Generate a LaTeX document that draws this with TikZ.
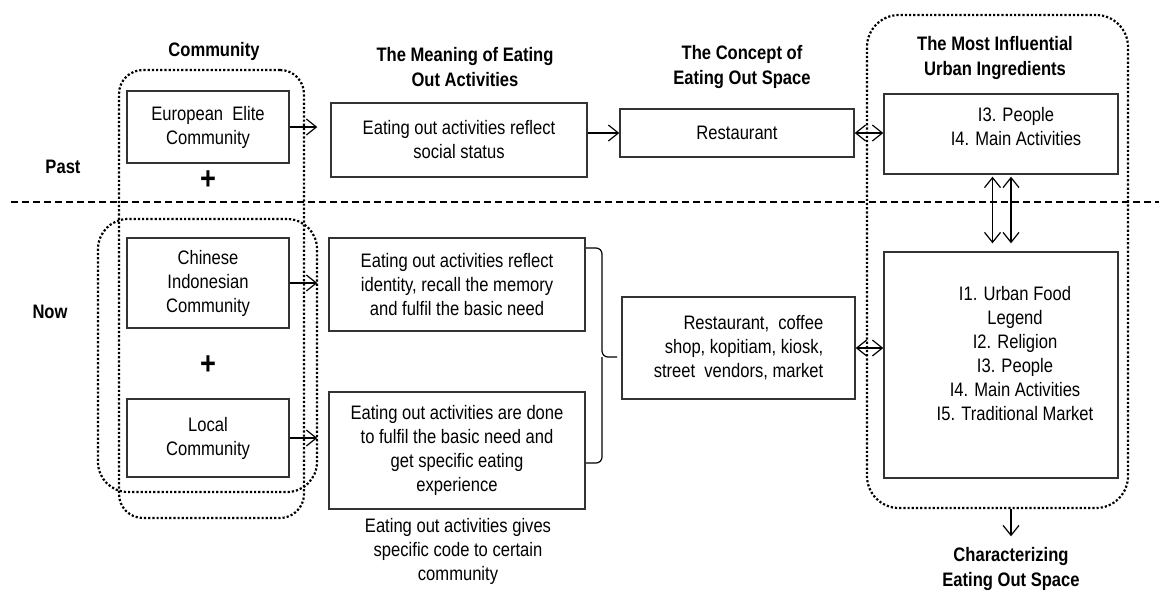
\documentclass[tikz,border=0pt]{standalone}
\usepackage{fontspec}
\setmainfont{Liberation Sans}[FakeStretch=0.85]
\usetikzlibrary{arrows.meta}

\begin{document}
\begin{tikzpicture}[x=0.5pt, y=-0.5pt,
    font=\fontsize{9.75}{12}\selectfont,
    box/.style={draw=black!80, line width=0.7pt, align=center, inner sep=0pt},
    head/.style={font=\fontsize{9.75}{12.5}\selectfont\bfseries, align=center},
    grp/.style={draw, line width=1.1pt, dash pattern=on 1.1pt off 1pt, rounded corners=#1},
    arr/.style={-{Straight Barb[length=5pt, width=8pt]}, line width=0.6pt},
    darr/.style={{Straight Barb[length=5pt, width=8pt]}-{Straight Barb[length=5pt, width=8pt]}, line width=0.6pt}]
    \useasboundingbox (0,0) rectangle (1159,590);

    % column titles
    \node[head] (tcom) at (214,51) {Community};
    \node[head] (tmean) at (465,67) {The Meaning of Eating\\Out Activities};
    \node[head] (tcon) at (742,67) {The Concept of\\Eating Out Space};
    \node[head] (ting) at (995,58) {The Most Influential\\Urban Ingredients};

    % row labels and the past / now separator
    \node[head] (past) at (63,167) {Past};
    \node[head] (now) at (50,312) {Now};
    \coordinate (sepL) at (11,202);
    \coordinate (sepR) at (1159,202);
    \draw[line width=0.65pt, dash pattern=on 3.5pt off 2pt] (sepL) -- (sepR);

    % dotted groups
    \node[grp=12pt, minimum width=92.5pt, minimum height=224pt] (gpast) at (211.5,294) {};
    \node[grp=15pt, minimum width=109.5pt, minimum height=136.5pt] (gnow) at (207.5,355.5) {};
    \node[grp=16pt, minimum width=130.5pt, minimum height=246.5pt] (gin) at (997.5,261.5) {};

    % communities
    \node[box, minimum width=81pt, minimum height=36pt] (eu) at (208,127) {European\ \ Elite\\Community};
    \node[box, minimum width=81pt, minimum height=45pt] (cn) at (208,283) {Chinese\\Indonesian\\Community};
    \node[box, minimum width=81pt, minimum height=39pt] (lc) at (208,438) {Local\\Community};
    \node[font=\fontsize{16}{16}\selectfont\bfseries] (plus1) at (208,180) {+};
    \node[font=\fontsize{16}{16}\selectfont\bfseries] (plus2) at (208,365) {+};

    % meaning of eating out
    \node[box, minimum width=128pt, minimum height=37pt] (m1) at (459,140) {Eating out activities reflect\\social status};
    \node[box, minimum width=128pt, minimum height=46.5pt] (m2) at (457,284.5) {Eating out activities reflect\\identity, recall the memory\\and fulfil the basic need};
    \node[box, minimum width=128pt, minimum height=58.5pt] (m3) at (457,450.5) {Eating out activities are done\\to fulfil the basic need and\\get specific eating\\experience};
    \node[align=center] (code) at (458,551) {Eating out activities gives\\specific code to certain\\community};

    % eating out space
    \node[box, minimum width=117pt, minimum height=24pt] (r1) at (737,133) {Restaurant};
    \node[box, align=right, minimum width=116.5pt, minimum height=51pt] (r2) at (738.5,348) {Restaurant,\ \ coffee\\shop, kopitiam, kiosk,\\street\ \ vendors, market};

    % urban ingredients
    \node[box, minimum width=117pt, minimum height=40pt] (i1) at (1001,134) {};
    \node[align=center] (i1t) at (1016,127) {I3. People\\I4. Main Activities};
    \node[box, minimum width=117pt, minimum height=113pt] (i2) at (1001,365) {};
    \node[align=center] (i2t) at (1015,354) {I1. Urban Food\\Legend\hspace*{15pt}\\I2. Religion\\I3. People\\I4. Main Activities\\I5. Traditional Market};
    \node[head] (chr) at (1011,569) {Characterizing\\Eating Out Space};

    % connectors
    \draw[arr, shorten >=6.5pt] (eu) -- (eu -| m1.west);
    \draw[arr, shorten >=5.5pt] (cn) -- (cn -| m2.west);
    \draw[arr, shorten >=5.5pt] (lc) -- (lc -| m3.west);
    \draw[arr] (r1.west -| m1.east) -- (r1.west);
    \draw[darr] (r1.east) -- (r1.east -| i1.west);
    \draw[darr] (r2.east) -- (r2.east -| i2.west);
    \coordinate (vaT) at ([xshift=-4.25pt]i1.south);
    \coordinate (vaB) at (vaT |- i2.north);
    \coordinate (vbT) at ([xshift=5pt]i1.south);
    \coordinate (vbB) at (vbT |- i2.north);
    \draw[darr, shorten <=1pt, shorten >=4pt] (vaT) -- (vaB);
    \draw[darr, shorten <=1pt, shorten >=4pt] (vbT) -- (vbB);
    \draw[arr, shorten >=2pt] (gin.south -| chr) -- (chr.north);

    % bracket joining the two present meanings
    \coordinate (brT) at (586,248);
    \coordinate (brB) at (586,463);
    \coordinate (brM) at (602,357);
    \coordinate (brTip) at (617,357);
    \draw[line width=0.6pt, rounded corners=3pt] (brT) -| (brM) -- (brTip) (brM) |- (brB);
\end{tikzpicture}
\end{document}
